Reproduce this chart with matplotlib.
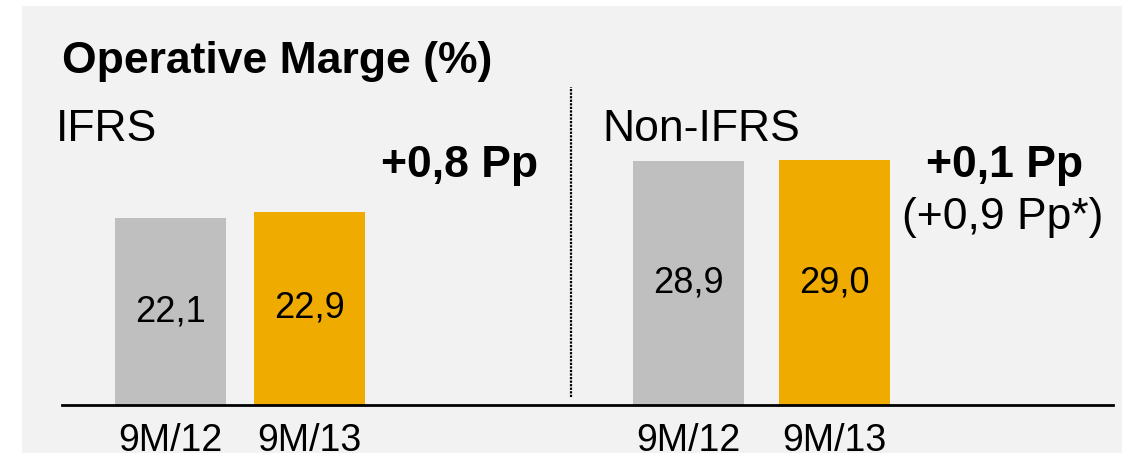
import matplotlib
matplotlib.use('Agg')
import matplotlib.pyplot as plt
from matplotlib.patches import Rectangle

plt.rcParams['font.family'] = ['Liberation Sans', 'DejaVu Sans']

# data
categories = ['9M/12', '9M/13', '9M/12', '9M/13']
values = [22.1, 22.9, 28.9, 29.0]
labels = ['22,1', '22,9', '28,9', '29,0']
colors = ['#bfbfbf', '#f0ab00', '#bfbfbf', '#f0ab00']

W, H = 1131, 457
fig = plt.figure(figsize=(W / 100, H / 100), dpi=100)
fig.patch.set_facecolor('white')

def fx(x):
    return x / W

def fy(y):
    return 1 - y / H

# grauer Hintergrund
fig.patches.append(Rectangle((fx(22), fy(453)), fx(1122) - fx(22), fy(6) - fy(453),
                             transform=fig.transFigure, facecolor='#f2f2f2',
                             edgecolor='none', zorder=-5))

ax = fig.add_axes([fx(62), fy(405), fx(1113) - fx(62), fy(6) - fy(405)])
ax.set_facecolor('none')
pos = [170.5, 309.5, 688.5, 834.5]
bars = ax.bar(pos, values, width=111, color=colors, zorder=2)
ax.set_xlim(62, 1113)
ax.set_ylim(0, (405 - 6) / 8.44)
ax.bar_label(bars, labels=labels, label_type='center', fontsize=26, color='black')

for s in ['top', 'right', 'left']:
    ax.spines[s].set_visible(False)
ax.spines['bottom'].set_linewidth(2)
ax.spines['bottom'].set_color('black')
ax.spines['bottom'].set_zorder(3)
ax.set_yticks([])
ax.set_xticks([])

# x-Beschriftung (unten wie im Original angeschnitten)
for p, c in zip(pos, categories):
    fig.text(fx(p), fy(441), c, fontsize=27, ha='center', va='center')

# Trennlinie
ax.plot([571, 571], [(405 - 397) / 8.44, (405 - 87) / 8.44], color='black',
        linestyle=(0, (1, 0.6)), linewidth=1.6, clip_on=False)

fig.text(fx(62), fy(62), 'Operative Marge (%)', fontsize=32, fontweight='bold',
         ha='left', va='center')
fig.text(fx(56), fy(130), 'IFRS', fontsize=32, ha='left', va='center')
fig.text(fx(602), fy(130), 'Non-IFRS', fontsize=32, ha='left', va='center')
fig.text(fx(538), fy(165), '+0,8 Pp', fontsize=32, fontweight='bold',
         ha='right', va='center')
fig.text(fx(1005), fy(165), '+0,1 Pp', fontsize=32, fontweight='bold',
         ha='center', va='center')
fig.text(fx(1003), fy(218), '(+0,9 Pp*)', fontsize=32, ha='center', va='center')

fig.savefig('out.png', dpi=100)
